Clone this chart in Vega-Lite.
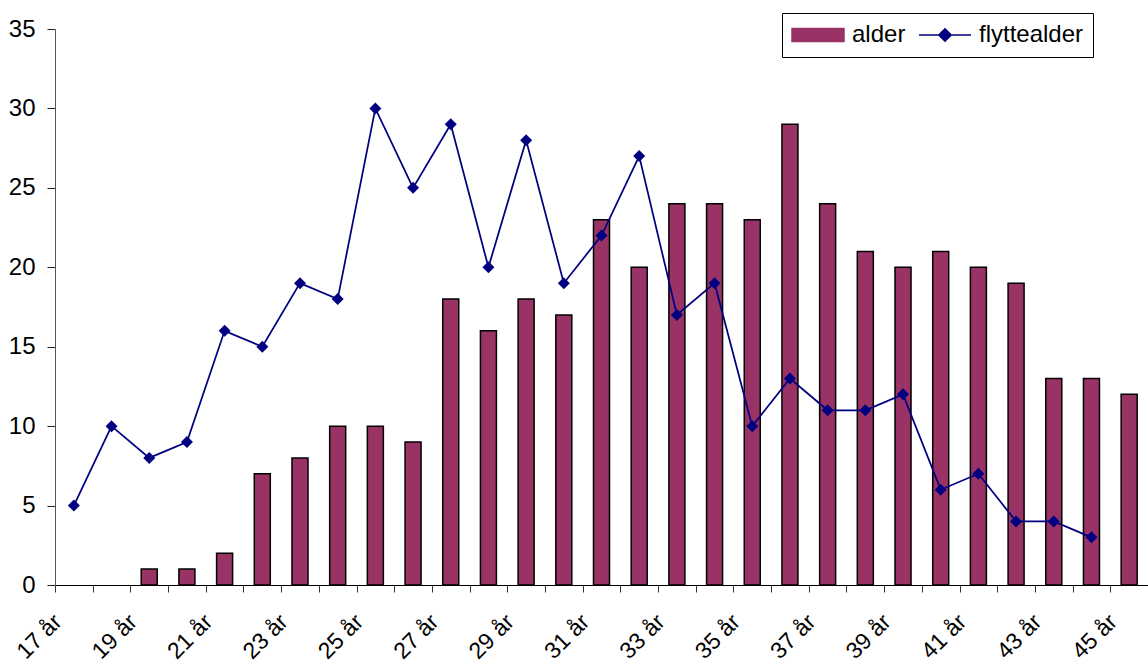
{
  "$schema": "https://vega.github.io/schema/vega-lite/v6.json",
  "width": 1093,
  "height": 556,
  "autosize": {"type": "none"},
  "padding": {"left": 55, "top": 29, "right": 0, "bottom": 81},
  "background": "white",
  "config": {
    "view": {"stroke": null},
    "font": "Liberation Sans",
    "axis": {"labelFont": "Liberation Sans", "labelColor": "black", "domainColor": "black", "tickColor": "#333333", "grid": false, "title": null}
  },
  "data": {
    "values": [
      {"age": "19 år", "serie": "alder", "v": 1},
      {"age": "20 år", "serie": "alder", "v": 1},
      {"age": "21 år", "serie": "alder", "v": 2},
      {"age": "22 år", "serie": "alder", "v": 7},
      {"age": "23 år", "serie": "alder", "v": 8},
      {"age": "24 år", "serie": "alder", "v": 10},
      {"age": "25 år", "serie": "alder", "v": 10},
      {"age": "26 år", "serie": "alder", "v": 9},
      {"age": "27 år", "serie": "alder", "v": 18},
      {"age": "28 år", "serie": "alder", "v": 16},
      {"age": "29 år", "serie": "alder", "v": 18},
      {"age": "30 år", "serie": "alder", "v": 17},
      {"age": "31 år", "serie": "alder", "v": 23},
      {"age": "32 år", "serie": "alder", "v": 20},
      {"age": "33 år", "serie": "alder", "v": 24},
      {"age": "34 år", "serie": "alder", "v": 24},
      {"age": "35 år", "serie": "alder", "v": 23},
      {"age": "36 år", "serie": "alder", "v": 29},
      {"age": "37 år", "serie": "alder", "v": 24},
      {"age": "38 år", "serie": "alder", "v": 21},
      {"age": "39 år", "serie": "alder", "v": 20},
      {"age": "40 år", "serie": "alder", "v": 21},
      {"age": "41 år", "serie": "alder", "v": 20},
      {"age": "42 år", "serie": "alder", "v": 19},
      {"age": "43 år", "serie": "alder", "v": 13},
      {"age": "44 år", "serie": "alder", "v": 13},
      {"age": "45 år", "serie": "alder", "v": 12},
      {"age": "17 år", "serie": "flyttealder", "v": 5},
      {"age": "18 år", "serie": "flyttealder", "v": 10},
      {"age": "19 år", "serie": "flyttealder", "v": 8},
      {"age": "20 år", "serie": "flyttealder", "v": 9},
      {"age": "21 år", "serie": "flyttealder", "v": 16},
      {"age": "22 år", "serie": "flyttealder", "v": 15},
      {"age": "23 år", "serie": "flyttealder", "v": 19},
      {"age": "24 år", "serie": "flyttealder", "v": 18},
      {"age": "25 år", "serie": "flyttealder", "v": 30},
      {"age": "26 år", "serie": "flyttealder", "v": 25},
      {"age": "27 år", "serie": "flyttealder", "v": 29},
      {"age": "28 år", "serie": "flyttealder", "v": 20},
      {"age": "29 år", "serie": "flyttealder", "v": 28},
      {"age": "30 år", "serie": "flyttealder", "v": 19},
      {"age": "31 år", "serie": "flyttealder", "v": 22},
      {"age": "32 år", "serie": "flyttealder", "v": 27},
      {"age": "33 år", "serie": "flyttealder", "v": 17},
      {"age": "34 år", "serie": "flyttealder", "v": 19},
      {"age": "35 år", "serie": "flyttealder", "v": 10},
      {"age": "36 år", "serie": "flyttealder", "v": 13},
      {"age": "37 år", "serie": "flyttealder", "v": 11},
      {"age": "38 år", "serie": "flyttealder", "v": 11},
      {"age": "39 år", "serie": "flyttealder", "v": 12},
      {"age": "40 år", "serie": "flyttealder", "v": 6},
      {"age": "41 år", "serie": "flyttealder", "v": 7},
      {"age": "42 år", "serie": "flyttealder", "v": 4},
      {"age": "43 år", "serie": "flyttealder", "v": 4},
      {"age": "44 år", "serie": "flyttealder", "v": 3}
    ]
  },
  "encoding": {
    "x": {
      "field": "age",
      "type": "nominal",
      "sort": null,
      "scale": {
        "domain": ["17 år","18 år","19 år","20 år","21 år","22 år","23 år","24 år","25 år","26 år","27 år","28 år","29 år","30 år","31 år","32 år","33 år","34 år","35 år","36 år","37 år","38 år","39 år","40 år","41 år","42 år","43 år","44 år","45 år"],
        "paddingInner": 0,
        "paddingOuter": 0
      },
      "axis": {
        "tickBand": "extent",
        "tickSize": 7,
        "labelAngle": -45,
        "labelAlign": "right",
        "labelBaseline": "top",
        "labelFontSize": 23,
        "labelPadding": 18,
        "labelOffset": -24,
        "labelOverlap": false,
        "labelExpr": "parseInt(datum.value) % 2 == 1 ? datum.label : ''"
      }
    },
    "y": {
      "field": "v",
      "type": "quantitative",
      "scale": {"domain": [0, 35], "nice": false},
      "axis": {"values": [0,5,10,15,20,25,30,35], "tickSize": 8, "labelFontSize": 24, "labelPadding": 12, "domainColor": "#555555", "tickColor": "#222222"}
    },
    "color": {
      "field": "serie",
      "type": "nominal",
      "scale": {"domain": ["alder", "flyttealder"], "range": ["#993366", "#000080"]},
      "legend": {
        "orient": "none",
        "legendX": 727,
        "legendY": -16,
        "direction": "horizontal",
        "title": null,
        "strokeColor": "black",
        "fillColor": "white",
        "padding": 9,
        "clipHeight": 26,
        "labelFont": "Liberation Sans",
        "labelFontSize": 24,
        "labelColor": "black",
        "labelOffset": 7,
        "columnPadding": 12,
        "symbolSize": 2704,
        "symbolStrokeWidth": 1.5,
        "encode": {
          "symbols": {
            "update": {
              "shape": {"signal": "datum.value === 'alder' ? 'M-1,-0.25H1V0.25H-1Z' : 'M-1,0H1M-0.24,0L0,-0.24L0.24,0L0,0.24Z'"},
              "fill": {"signal": "datum.value === 'alder' ? '#993366' : '#000080'"},
              "stroke": {"signal": "datum.value === 'alder' ? 'black' : '#000080'"},
              "strokeWidth": {"value": 1.5},
              "size": {"value": 2704},
              "opacity": {"value": 1},
              "fillOpacity": {"value": 1}
            }
          }
        }
      }
    }
  },
  "layer": [
    {
      "transform": [{"filter": "datum.serie === 'alder'"}],
      "mark": {"type": "bar", "size": 16, "stroke": "black", "strokeWidth": 1.5}
    },
    {
      "transform": [{"filter": "datum.serie === 'flyttealder'"}],
      "mark": {"type": "line", "strokeWidth": 1.75, "point": {"shape": "diamond", "size": 144, "filled": true, "opacity": 1}}
    }
  ]
}
